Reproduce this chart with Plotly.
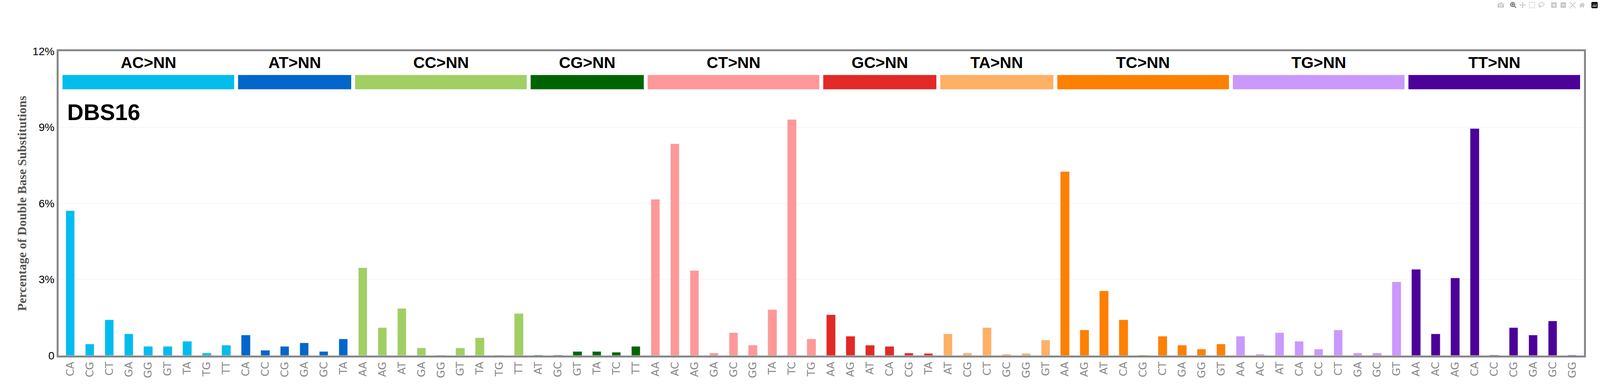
import plotly.graph_objects as go

groups = ["AC>NN","AT>NN","CC>NN","CG>NN","CT>NN","GC>NN","TA>NN","TC>NN","TG>NN","TT>NN"]
colors = ["#03BCEE","#0266CA","#A1CF64","#006501","#FF9898","#E22926","#FEB065","#FD8000","#CB98FD","#4C0199"]
subs = [
 ["CA","CG","CT","GA","GG","GT","TA","TG","TT"],
 ["CA","CC","CG","GA","GC","TA"],
 ["AA","AG","AT","GA","GG","GT","TA","TG","TT"],
 ["AT","GC","GT","TA","TC","TT"],
 ["AA","AC","AG","GA","GC","GG","TA","TC","TG"],
 ["AA","AG","AT","CA","CG","TA"],
 ["AT","CG","CT","GC","GG","GT"],
 ["AA","AG","AT","CA","CG","CT","GA","GG","GT"],
 ["AA","AC","AT","CA","CC","CT","GA","GC","GT"],
 ["AA","AC","AG","CA","CC","CG","GA","GC","GG"],
]
vals = [
 [5.7,0.45,1.4,0.85,0.35,0.35,0.55,0.1,0.4],
 [0.8,0.2,0.35,0.5,0.15,0.65],
 [3.45,1.1,1.85,0.3,0.02,0.3,0.7,0.02,1.65],
 [0.02,0.02,0.15,0.15,0.12,0.35],
 [6.15,8.35,3.35,0.1,0.9,0.4,1.8,9.3,0.65],
 [1.6,0.75,0.4,0.35,0.1,0.08],
 [0.85,0.1,1.1,0.05,0.08,0.6],
 [7.25,1.0,2.55,1.4,0.02,0.75,0.4,0.25,0.45],
 [0.75,0.05,0.9,0.55,0.25,1.0,0.1,0.1,2.9],
 [3.4,0.85,3.05,8.95,0.02,1.1,0.8,1.35,0.02],
]

fig = go.Figure()
shapes, annotations = [], []
xs_all, labels_all = [], []
pos = 0
for g, c, s, v in zip(groups, colors, subs, vals):
    xs = list(range(pos, pos + len(s)))
    fig.add_trace(go.Bar(x=xs, y=v, marker_color=c, width=0.45, showlegend=False))
    shapes.append(dict(type="rect", xref="x", yref="paper", x0=xs[0]-0.4, x1=xs[-1]+0.4,
                       y0=0.875, y1=0.922, fillcolor=c, line_width=0))
    annotations.append(dict(text="<b>%s</b>" % g, x=(xs[0]+xs[-1])/2, xref="x", y=0.93, yref="paper",
                            yanchor="bottom", showarrow=False, font=dict(size=41, family="Liberation Sans", color="black")))
    xs_all += xs
    labels_all += s
    pos += len(s)

annotations.append(dict(text="<b>DBS16</b>", x=0.005, xref="paper", y=0.845, yref="paper", xanchor="left",
                        yanchor="top", showarrow=False, font=dict(size=58, family="Liberation Sans", color="black")))

fig.update_layout(
    autosize=True, plot_bgcolor="white", paper_bgcolor="white",
    margin=dict(l=150, r=41, t=131, b=83), bargap=0,
    shapes=shapes, annotations=annotations,
    xaxis=dict(tickmode="array", tickvals=xs_all, ticktext=labels_all, tickangle=-90,
               tickfont=dict(size=27, family="DejaVu Sans", color="#888"),
               range=[-0.6, pos-0.4], showgrid=False, showline=True, linecolor="#888", linewidth=5,
               mirror=True, ticks=""),
    yaxis=dict(range=[0, 12], tickvals=[0,3,6,9,12], ticktext=["0","3%","6%","9%","12%"],
               tickfont=dict(size=28, family="Liberation Sans", color="black"),
               showgrid=True, gridcolor="#f0f0f0", showline=True, linecolor="#888", linewidth=5,
               mirror=True, zeroline=False,
               title=dict(text="<b>Percentage of Double Base Substitutions</b>",
                          font=dict(size=32, family="Liberation Serif", color="#555"), standoff=8)),
)
fig.write_html("out.html", default_width="100vw", default_height="100vh",
               post_script="document.body.style.margin='0';document.body.style.overflow='hidden';")
